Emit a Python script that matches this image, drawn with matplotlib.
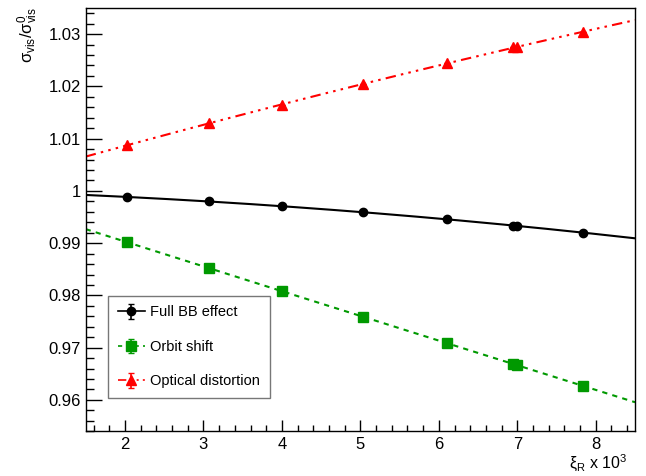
import matplotlib
matplotlib.use("Agg")
import matplotlib.pyplot as plt
import numpy as np
from matplotlib.ticker import MultipleLocator, FuncFormatter

plt.rcParams['font.family'] = ['Liberation Sans', 'DejaVu Sans']
plt.rcParams['mathtext.fontset'] = 'custom'
plt.rcParams['mathtext.rm'] = 'Liberation Sans'
plt.rcParams['mathtext.it'] = 'Liberation Sans:italic'

# beam-beam parameter (x 10^3) and visible cross-section ratio
xi = [2.03, 3.07, 4.00, 5.03, 6.10, 6.94, 7.00, 7.84]
full_bb = [0.99883, 0.99801, 0.99706, 0.99591, 0.99457, 0.99335, 0.99335, 0.99201]
orbit_shift = [0.99017, 0.98520, 0.98086, 0.97589, 0.97086, 0.96690, 0.96671, 0.96264]
optical = [1.00878, 1.01293, 1.01648, 1.02044, 1.02440, 1.02746, 1.02760, 1.03038]
err = [0.0, 0.0, 0.0, 0.0, 0.0, 0.0, 0.0, 0.0]

labels = ["Full BB effect", "Orbit shift", "Optical distortion"]

fig = plt.figure(figsize=(6.46, 4.76), dpi=100)
ax = fig.add_axes([0.1327, 0.0939, 0.8503, 0.8893])

series = [
    (full_bb, "black", "o", 6.0, "-"),
    (orbit_shift, "#009900", "s", 6.5, (0, (2.5, 2.5))),
    (optical, "#ff0000", "^", 7.0, (0, (5, 2.5, 1.2, 2.5, 1.2, 2.5, 1.2, 2.5))),
]

xfit = np.linspace(1.5, 8.5, 200)
containers = []
for (yv, col, mk, ms, ls), lab in zip(series, labels):
    coef = np.polyfit(xi, yv, 2)
    ax.plot(xfit, np.polyval(coef, xfit), color=col, ls=ls, lw=1.5, zorder=2)
    c = ax.errorbar(xi, yv, yerr=err, fmt=mk, color=col, ms=ms, ls=ls, lw=1.2,
                    elinewidth=1.2, capsize=2.5, label=lab, zorder=3)
    containers.append(c)

leg = ax.legend(loc="upper left", bbox_to_anchor=(0.0406, 0.3196), borderaxespad=0,
                fontsize=10.5, frameon=True, fancybox=False, edgecolor="#555555",
                handlelength=1.9, handletextpad=0.35, labelspacing=1.4,
                borderpad=0.65)
leg.get_frame().set_linewidth(1.0)
# markers only for the points, the curves are the fits
for c in containers:
    c[0].set_linestyle("none")

ax.set_xlim(1.5, 8.5)
ax.set_ylim(0.954, 1.035)
ax.xaxis.set_major_locator(MultipleLocator(1))
ax.xaxis.set_minor_locator(MultipleLocator(0.2))
ax.yaxis.set_major_locator(MultipleLocator(0.01))
ax.yaxis.set_minor_locator(MultipleLocator(0.002))
ax.yaxis.set_major_formatter(FuncFormatter(lambda v, p: "%g" % round(v, 3)))

ax.tick_params(axis="both", which="both", direction="in", labelsize=12)
ax.tick_params(axis="y", which="major", length=11.5, width=1, pad=3.5)
ax.tick_params(axis="y", which="minor", length=5.8, width=1)
ax.tick_params(axis="x", which="major", length=8, width=1, pad=4)
ax.tick_params(axis="x", which="minor", length=4, width=1)
for s in ax.spines.values():
    s.set_linewidth(1.0)

ax.text(0.987, -0.05, r"$\mathrm{\xi_R}$ x 10$^{3}$", transform=ax.transAxes,
        ha="right", va="top", fontsize=11.5)
ax.text(-0.105, 1.002, r"$\mathrm{\sigma_{vis}/\sigma^{0}_{vis}}$", transform=ax.transAxes,
        rotation=90, ha="center", va="top", fontsize=12)

fig.savefig("out.png", dpi=100)
